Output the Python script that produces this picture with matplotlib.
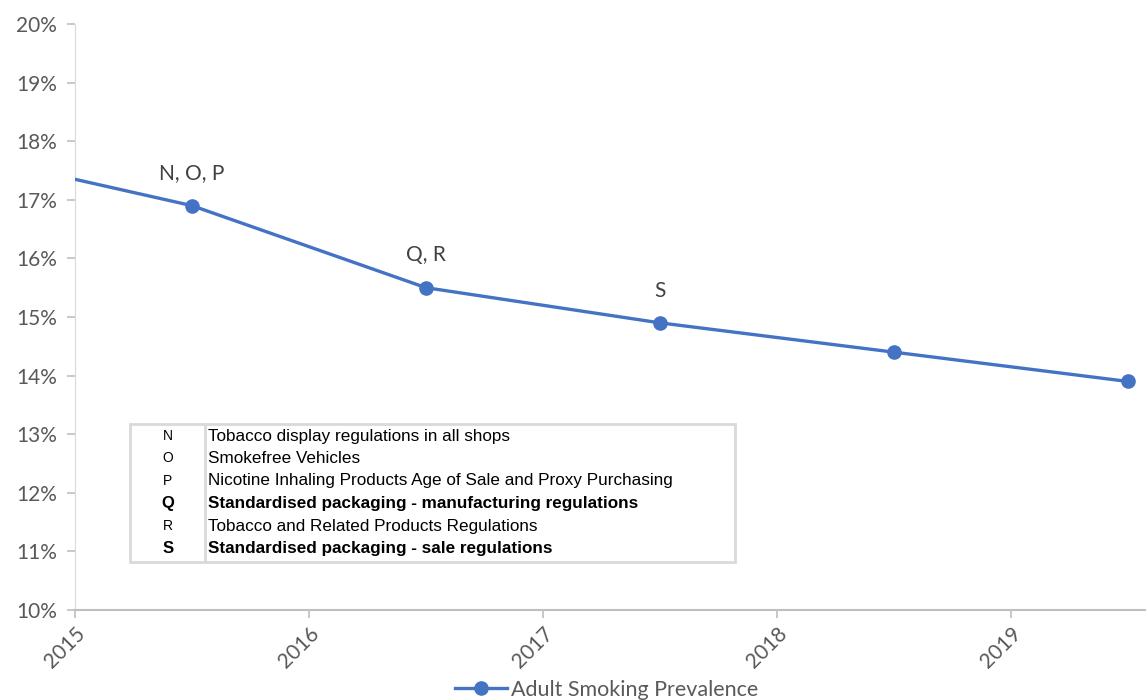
import matplotlib
matplotlib.use("Agg")
import matplotlib.pyplot as plt
from matplotlib.patches import Rectangle
from matplotlib.ticker import FuncFormatter

# данные
years = [2014.5, 2015.5, 2016.5, 2017.5, 2018.5, 2019.5]
prevalence = [17.8, 16.9, 15.5, 14.9, 14.4, 13.9]
point_labels = ["", "N, O, P", "Q, R", "S", "", ""]

table_keys = ["N", "O", "P", "Q", "R", "S"]
table_texts = [
    "Tobacco display regulations in all shops",
    "Smokefree Vehicles",
    "Nicotine Inhaling Products Age of Sale and Proxy Purchasing",
    "Standardised packaging - manufacturing regulations",
    "Tobacco and Related Products Regulations",
    "Standardised packaging - sale regulations",
]
table_bold = [False, False, False, True, False, True]

LINE_COLOR = "#4472C4"
TEXT_COLOR = "#595959"

plt.rcParams['font.family'] = ['Lato', 'DejaVu Sans']

fig = plt.figure(figsize=(11.46, 7.0), dpi=100)
ax = fig.add_axes([75 / 1146, 1 - 610 / 700, 1 - 75 / 1146, 586 / 700])

ax.plot(years, prevalence, color=LINE_COLOR, lw=2.4, marker='o', markersize=9.5,
        label="Adult Smoking Prevalence", zorder=3)

for x, y, lab in zip(years, prevalence, point_labels):
    if lab:
        ax.annotate(lab, (x, y), xytext=(0, 16), textcoords='offset points',
                    ha='center', va='bottom', fontsize=15, color="#404040")

ax.set_xlim(2015, 2015 + 1071 / 234)
ax.set_ylim(10, 20)
ax.set_xticks([2015, 2016, 2017, 2018, 2019])
ax.set_yticks(range(10, 21))
ax.yaxis.set_major_formatter(FuncFormatter(lambda v, p: "%d%%" % v))

for lbl in ax.get_xticklabels():
    lbl.set_rotation(45)
    lbl.set_ha('right')
    lbl.set_rotation_mode('anchor')

ax.tick_params(axis='both', colors="#BFBFBF", labelcolor=TEXT_COLOR, labelsize=15,
               length=6, width=1.2)
ax.tick_params(axis='y', pad=7)
ax.tick_params(axis='x', pad=4)

for s in ['top', 'right']:
    ax.spines[s].set_visible(False)
ax.spines['left'].set_color("#D9D9D9")
ax.spines['left'].set_linestyle((0, (1, 1)))
ax.spines['bottom'].set_color("#BFBFBF")
ax.spines['bottom'].set_linewidth(1.5)

# таблица с пояснениями
def fx(px):
    return (px - 75) / 1071

def fy(py):
    return (610 - py) / 586

ax.add_patch(Rectangle((fx(130), fy(562)), fx(735) - fx(130), fy(424) - fy(562),
                       transform=ax.transAxes, facecolor='white', edgecolor="#D9D9D9",
                       lw=2, zorder=4))
ax.plot([fx(205), fx(205)], [fy(562), fy(424)], transform=ax.transAxes,
        color="#D9D9D9", lw=2, zorder=5)

row_y = [436, 458.5, 481, 503.5, 526, 548.5]
for ry, k, t, b in zip(row_y, table_keys, table_texts, table_bold):
    w = 'bold' if b else 'normal'
    ax.text(fx(168), fy(ry), k, transform=ax.transAxes, ha='center', va='center',
            fontsize=12 if b else 10, fontweight=w, family='Liberation Sans', color='black', zorder=6)
    ax.text(fx(208), fy(ry), t, transform=ax.transAxes, ha='left', va='center',
            fontsize=12.3, fontweight=w, family='Liberation Sans', color='black', zorder=6)

fig.legend(loc='center', bbox_to_anchor=(607 / 1146, 1 - 690 / 700), frameon=False,
           fontsize=15.5, labelcolor=TEXT_COLOR, handlelength=2.4, handletextpad=0.2)

fig.savefig("out.png", dpi=100)
